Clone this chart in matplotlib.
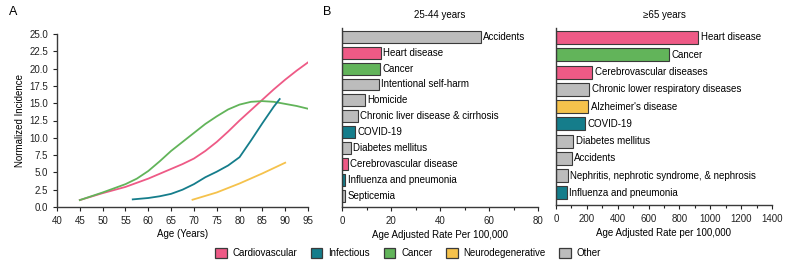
import matplotlib
matplotlib.use('Agg')
from matplotlib import pyplot as plt
from matplotlib.patches import Patch
from matplotlib.ticker import MultipleLocator, FormatStrFormatter

plt.rcParams['font.family'] = ['Liberation Sans', 'DejaVu Sans']
plt.rcParams['font.size'] = 7

PINK = '#ee5a86'
TEAL = '#157d8b'
GREEN = '#62b45a'
YELLOW = '#f5c24c'
GRAY = '#bcbcbc'
EDGE = '#3a3a3a'

# Panel A: normalized incidence by age
cardio_age = [45, 50, 55, 57.5, 60, 62.5, 65, 67.5, 70, 72.5, 75, 77.5, 80, 82.5, 85, 87.5, 90, 92.5, 95]
cardio_val = [1.0, 2.0, 2.9, 3.5, 4.1, 4.8, 5.5, 6.2, 7.0, 8.1, 9.4, 10.9, 12.5, 14.0, 15.5, 17.0, 18.4, 19.7, 20.9]
cancer_age = [45, 50, 55, 57.5, 60, 62.5, 65, 67.5, 70, 72.5, 75, 77.5, 80, 82.5, 85, 87.5, 90, 92.5, 95]
cancer_val = [1.0, 2.1, 3.3, 4.1, 5.2, 6.6, 8.1, 9.4, 10.7, 12.0, 13.1, 14.1, 14.8, 15.2, 15.3, 15.2, 14.9, 14.6, 14.2]
infect_age = [56.6, 60, 62.5, 65, 67.5, 70, 72.5, 75, 77.5, 80, 82.5, 85, 87.5, 88.8]
infect_val = [1.1, 1.3, 1.55, 1.9, 2.5, 3.3, 4.3, 5.1, 6.0, 7.2, 9.6, 12.1, 14.5, 15.6]
neuro_age = [69.7, 75, 80, 85, 90]
neuro_val = [1.05, 2.1, 3.4, 4.85, 6.4]

# Panel B: leading causes of death, 25-44 years
young_causes = ['Accidents', 'Heart disease', 'Cancer', 'Intentional self-harm', 'Homicide',
                'Chronic liver disease & cirrhosis', 'COVID-19', 'Diabetes mellitus',
                'Cerebrovascular disease', 'Influenza and pneumonia', 'Septicemia']
young_rates = [56.7, 15.9, 15.4, 15.0, 9.3, 6.4, 5.3, 3.7, 2.4, 1.4, 1.2]
young_groups = ['o', 'c', 'k', 'o', 'o', 'o', 'i', 'o', 'c', 'i', 'o']

# Panel B: leading causes of death, >=65 years
old_causes = ['Heart disease', 'Cancer', 'Cerebrovascular diseases',
              'Chronic lower respiratory diseases', "Alzheimer's disease", 'COVID-19',
              'Diabetes mellitus', 'Accidents', 'Nephritis, nephrotic syndrome, & nephrosis',
              'Influenza and pneumonia']
old_rates = [922, 732, 233, 215, 209, 187, 112, 103, 75, 69]
old_groups = ['c', 'k', 'c', 'o', 'n', 'i', 'o', 'o', 'o', 'i']

group_colors = {'c': PINK, 'i': TEAL, 'k': GREEN, 'n': YELLOW, 'o': GRAY}
legend_names = ['Cardiovascular', 'Infectious', 'Cancer', 'Neurodegenerative', 'Other']
legend_colors = [PINK, TEAL, GREEN, YELLOW, GRAY]

fig = plt.figure(figsize=(7.87, 2.68), dpi=100)


def style_spines(ax):
    for s in ['top', 'right']:
        ax.spines[s].set_visible(False)
    for s in ['left', 'bottom']:
        ax.spines[s].set_color(EDGE)
        ax.spines[s].set_linewidth(1.0)
    ax.tick_params(colors='#222222', width=0.8, length=3, labelsize=7)


# Panel A
axA = fig.add_axes([57 / 787, 1 - 207 / 268, 251 / 787, 173 / 268])
axA.plot(cardio_age, cardio_val, color=PINK, lw=1.3)
axA.plot(cancer_age, cancer_val, color=GREEN, lw=1.3)
axA.plot(infect_age, infect_val, color=TEAL, lw=1.3)
axA.plot(neuro_age, neuro_val, color=YELLOW, lw=1.3)
axA.set_xlim(40, 95)
axA.set_ylim(0, 25)
axA.xaxis.set_major_locator(MultipleLocator(5))
axA.yaxis.set_major_locator(MultipleLocator(2.5))
axA.yaxis.set_major_formatter(FormatStrFormatter('%.1f'))
axA.set_xlabel('Age (Years)', fontsize=7, labelpad=2)
axA.set_ylabel('Normalized Incidence', fontsize=7, labelpad=3)
style_spines(axA)


def bar_panel(rect, causes, rates, groups, xmax, major, minor, title, xlabel):
    ax = fig.add_axes(rect)
    ypos = list(range(len(causes)))
    ax.barh(ypos, rates, height=0.75, color=[group_colors[g] for g in groups],
            edgecolor=EDGE, linewidth=0.8)
    for y, r, name in zip(ypos, rates, causes):
        ax.text(r + xmax * 0.012, y, name, va='center', ha='left', fontsize=7)
    ax.set_xlim(0, xmax)
    ax.set_ylim(len(causes) - 0.3, -0.55)
    ax.set_yticks([])
    ax.xaxis.set_major_locator(MultipleLocator(major))
    ax.xaxis.set_minor_locator(MultipleLocator(minor))
    ax.tick_params(axis='x', which='minor', length=2, width=0.8, colors='#222222')
    ax.set_title(title, fontsize=7, pad=7)
    ax.set_xlabel(xlabel, fontsize=7, labelpad=3)
    style_spines(ax)
    return ax


bar_panel([342 / 787, 1 - 207 / 268, 196 / 787, 179 / 268], young_causes, young_rates,
          young_groups, 80, 20, 10, '25-44 years', 'Age Adjusted Rate Per 100,000')
bar_panel([556 / 787, 1 - 205 / 268, 216 / 787, 177 / 268], old_causes, old_rates,
          old_groups, 1400, 200, 100, '\u226565 years', 'Age Adjusted Rate per 100,000')

fig.text(9 / 787, 1 - 12 / 268, 'A', fontsize=9, va='center', ha='left')
fig.text(323 / 787, 1 - 12 / 268, 'B', fontsize=9, va='center', ha='left')

handles = [Patch(facecolor=c, edgecolor=EDGE, linewidth=0.9) for c in legend_colors]
fig.legend(handles, legend_names, loc='center', bbox_to_anchor=(408 / 787, 1 - 253 / 268),
           ncol=5, frameon=False, fontsize=7, handlelength=1.2, handleheight=1.2,
           columnspacing=1.4, handletextpad=0.6)

fig.savefig('out.png', dpi=100)
